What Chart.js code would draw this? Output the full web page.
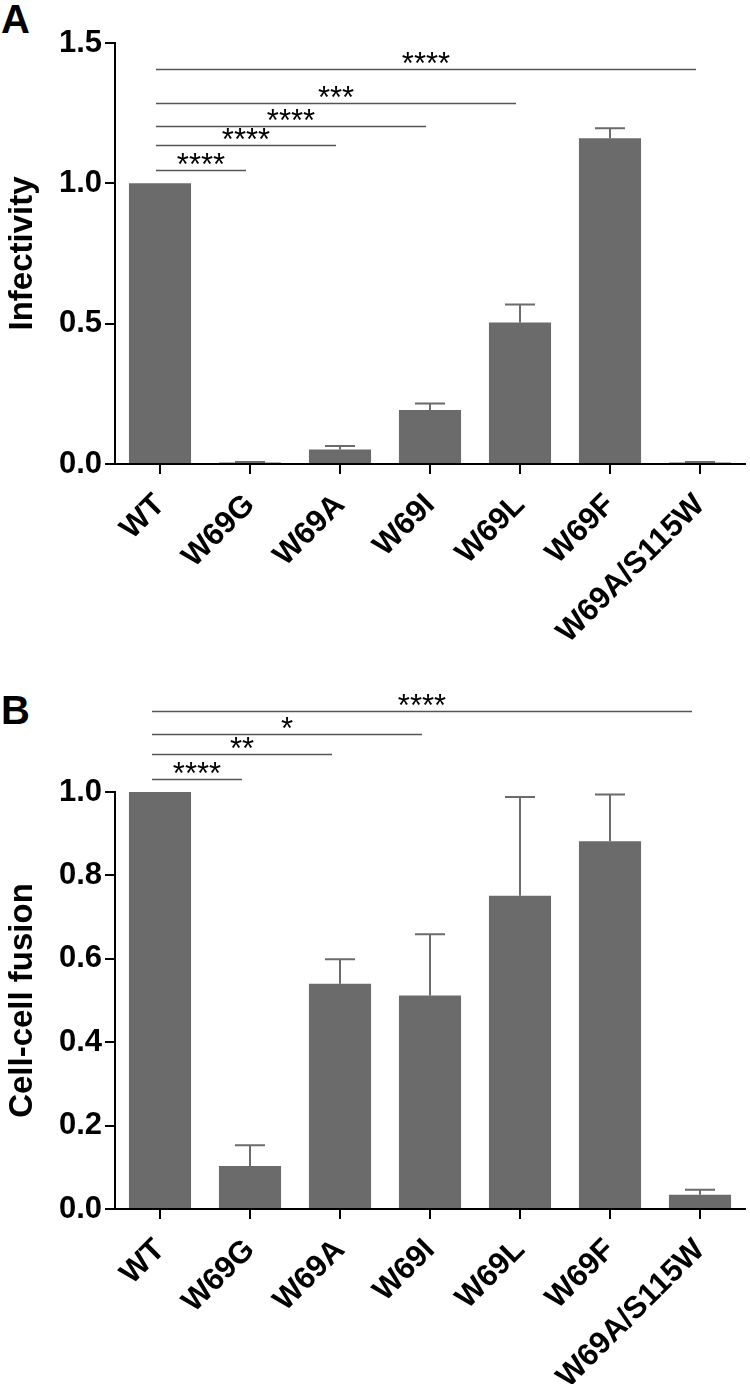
<!DOCTYPE html>
<html>
<head>
<meta charset="utf-8">
<script src="https://cdn.jsdelivr.net/npm/chart.js@4"></script>
<style>
  body { margin: 0; background: #fff; }
  .wrap { position: relative; width: 750px; height: 1384px; }
  .panel { position: absolute; left: 0; width: 750px; height: 692px; }
  .letter { position: absolute; left: 1px; font: bold 40px "Liberation Sans", Arial, sans-serif; color: #000; line-height: 1; }
</style>
</head>
<body>
<div class="wrap">
  <div class="letter" style="top:-1px">A</div>
  <div class="letter" style="top:690px">B</div>
  <div class="panel" style="top:0"><canvas id="chartA" width="750" height="692"></canvas></div>
  <div class="panel" style="top:692px"><canvas id="chartB" width="750" height="692"></canvas></div>
</div>
<script>
const categories = ['WT', 'W69G', 'W69A', 'W69I', 'W69L', 'W69F', 'W69A/S115W'];

const infectivity = [1.0, 0.005, 0.052, 0.192, 0.504, 1.161, 0.005];
const infectivityErr = [0, 0.002, 0.012, 0.024, 0.064, 0.035, 0.002];
const infectivityTicks = [0, 0.5, 1.0, 1.5];

const fusion = [1.0, 0.103, 0.54, 0.512, 0.751, 0.882, 0.034];
const fusionErr = [0, 0.05, 0.059, 0.147, 0.237, 0.112, 0.012];
const fusionTicks = [0, 0.2, 0.4, 0.6, 0.8, 1.0];

// significance brackets: [from index, to index, height, label]
const infectivitySig = [
  [0, 1, 1.046, '****'],
  [0, 2, 1.135, '****'],
  [0, 3, 1.206, '****'],
  [0, 4, 1.288, '***'],
  [0, 6, 1.409, '****']
];
const fusionSig = [
  [0, 1, 1.031, '****'],
  [0, 2, 1.091, '**'],
  [0, 3, 1.139, '*'],
  [0, 6, 1.194, '****']
];

const FONT = '"Liberation Sans", Arial, sans-serif';
const barColor = '#6b6b6b';

const extras = {
  id: 'extras',
  afterDatasetsDraw(chart, args, opts) {
    const ctx = chart.ctx;
    const x = chart.scales.x, y = chart.scales.y;
    const meta = chart.getDatasetMeta(0);
    ctx.save();
    // error bars (upper only)
    ctx.strokeStyle = barColor;
    ctx.lineWidth = 2;
    meta.data.forEach((bar, i) => {
      const e = opts.err[i];
      if (!e) return;
      const v = chart.data.datasets[0].data[i];
      const y0 = y.getPixelForValue(v);
      const y1 = y.getPixelForValue(v + e);
      ctx.beginPath();
      ctx.moveTo(bar.x, y0);
      ctx.lineTo(bar.x, y1);
      ctx.moveTo(bar.x - 15, y1);
      ctx.lineTo(bar.x + 15, y1);
      ctx.stroke();
    });
    // significance lines
    ctx.strokeStyle = '#555';
    ctx.lineWidth = 1.5;
    ctx.fillStyle = '#000';
    ctx.font = '31px ' + FONT;
    ctx.textAlign = 'center';
    ctx.textBaseline = 'alphabetic';
    opts.sig.forEach(s => {
      const xa = x.getPixelForValue(s[0]) + opts.shift;
      const xb = x.getPixelForValue(s[1]) + opts.shift;
      const yy = Math.round(y.getPixelForValue(s[2])) + 0.5;
      ctx.beginPath();
      ctx.moveTo(xa, yy);
      ctx.lineTo(xb, yy);
      ctx.stroke();
      ctx.fillText(s[3], (xa + xb) / 2, yy + 4);
    });
    ctx.restore();
  }
};

function makeChart(id, values, err, sig, ticks, max, title, top, bottom, shift) {
  return new Chart(document.getElementById(id), {
    type: 'bar',
    data: {
      labels: categories,
      datasets: [{
        data: values,
        backgroundColor: barColor,
        borderWidth: 0,
        barPercentage: 0.69,
        categoryPercentage: 1
      }]
    },
    options: {
      responsive: false,
      animation: false,
      layout: { padding: { top: top, right: 5, left: 0, bottom: 0 } },
      plugins: {
        legend: { display: false },
        tooltip: { enabled: false },
        extras: { err: err, sig: sig, shift: shift }
      },
      scales: {
        x: {
          afterFit(scale) { scale.height = bottom; },
          border: { color: '#000', width: 2 },
          grid: { offset: false, drawOnChartArea: false, drawTicks: true, tickLength: 10, color: '#000', lineWidth: 2 },
          ticks: {
            color: '#000',
            font: { family: FONT, size: 31, weight: 'bold' },
            maxRotation: 45, minRotation: 45,
            padding: 13
          }
        },
        y: {
          min: 0, max: max,
          afterFit(scale) { scale.width = 115; },
          afterBuildTicks(scale) { scale.ticks = ticks.map(v => ({ value: v })); },
          border: { color: '#000', width: 2 },
          grid: { drawOnChartArea: false, drawTicks: true, tickLength: 10, color: '#000', lineWidth: 2 },
          ticks: {
            color: '#000',
            font: { family: FONT, size: 31, weight: 'bold' },
            padding: 3,
            callback: v => Number(v).toFixed(1)
          },
          title: {
            display: true,
            text: title,
            color: '#000',
            font: { family: FONT, size: 33, weight: 'bold' },
            padding: { top: 3, bottom: 0 }
          }
        }
      }
    },
    plugins: [extras]
  });
}

makeChart('chartA', infectivity, infectivityErr, infectivitySig, infectivityTicks, 1.5, 'Infectivity', 43, 228, -4);
makeChart('chartB', fusion, fusionErr, fusionSig, fusionTicks, 1.0, 'Cell-cell fusion', 100, 175, -8);
</script>
</body>
</html>
